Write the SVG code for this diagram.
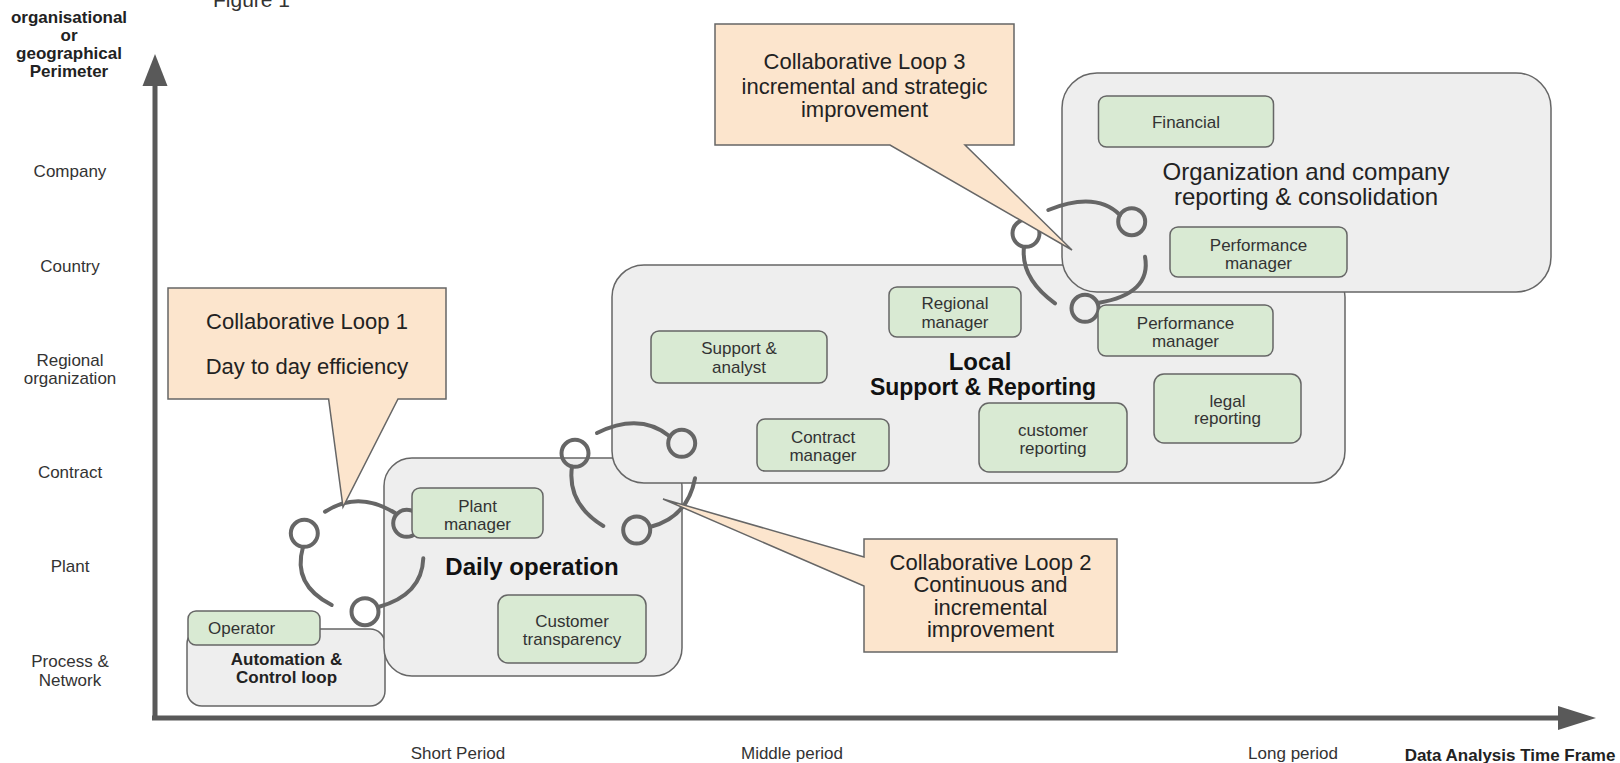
<svg xmlns="http://www.w3.org/2000/svg" width="1620" height="763" viewBox="0 0 1620 763">
<style>
text{font-family:"Liberation Sans",Arial,sans-serif}
.ax{stroke:#595959;stroke-width:5;fill:none}
.axh{fill:#595959}
.big{fill:#eeeeee;stroke:#666;stroke-width:1.5}
.node{fill:#d9ead3;stroke:#666;stroke-width:1.5}
.call{fill:#fce5cd;stroke:#666;stroke-width:1.5}
.loop{fill:none;stroke:#666;stroke-width:4;stroke-linecap:round}
.lbl{font-size:17px;fill:#333;text-anchor:middle}
.lblb{font-size:17px;fill:#222;text-anchor:middle;font-weight:bold}
.nt{font-size:17px;fill:#333;text-anchor:middle}
.ct{font-size:22px;fill:#222;text-anchor:middle}
.tt{font-size:24px;fill:#111;text-anchor:middle;font-weight:bold}
.tr{font-size:24px;fill:#222;text-anchor:middle}
</style>
<rect width="1620" height="763" fill="#ffffff"/>
<text x="213" y="7" font-size="21" fill="#333">Figure 1</text>

<g id="axes">
<line class="ax" x1="155" y1="80" x2="155" y2="720"/>
<polygon class="axh" points="155,54 142.5,86 167.5,86"/>
<line class="ax" x1="152" y1="718" x2="1562" y2="718"/>
<polygon class="axh" points="1558,706 1596,718 1558,730"/>
<text class="lblb" x="69" y="23">organisational</text>
<text class="lblb" x="69" y="41">or</text>
<text class="lblb" x="69" y="59">geographical</text>
<text class="lblb" x="69" y="77">Perimeter</text>
<text class="lbl" x="70" y="176.5">Company</text>
<text class="lbl" x="70" y="271.5">Country</text>
<text class="lbl" x="70" y="365.5">Regional</text>
<text class="lbl" x="70" y="384">organization</text>
<text class="lbl" x="70" y="478">Contract</text>
<text class="lbl" x="70" y="572">Plant</text>
<text class="lbl" x="70" y="667">Process &amp;</text>
<text class="lbl" x="70" y="686">Network</text>
<text class="lbl" x="458" y="759">Short Period</text>
<text class="lbl" x="792" y="759">Middle period</text>
<text class="lbl" x="1293" y="759">Long period</text>
<text class="lblb" x="1510" y="761">Data Analysis Time Frame</text>
</g>

<g id="automation">
<rect class="big" x="187" y="629" width="198" height="77" rx="15"/>
<text class="lblb" x="286.5" y="665">Automation &amp;</text>
<text class="lblb" x="286.5" y="683">Control loop</text>
</g>
<g id="daily-operation">
<rect class="big" x="384" y="458" width="298" height="218" rx="28"/>
<text class="tt" x="532" y="575">Daily operation</text>
</g>
<g id="local-support">
<rect class="big" x="612" y="265" width="733" height="218" rx="32"/>
<text class="tt" x="980" y="370">Local</text>
<text class="tt" x="983" y="395" style="font-size:23px">Support &amp; Reporting</text>
</g>
<g id="organization">
<rect class="big" x="1062" y="73" width="489" height="219" rx="35"/>
<text class="tr" x="1306" y="180">Organization and company</text>
<text class="tr" x="1306" y="205">reporting &amp; consolidation</text>
</g>

<g id="connectors">
<g id="loop1">
<circle class="loop" cx="304.3" cy="533.3" r="13.5"/>
<circle class="loop" cx="406.7" cy="523.3" r="13.5"/>
<circle class="loop" cx="365" cy="611.7" r="13.5"/>
<path class="loop" d="M325,511.7 Q358.5,490 395,513"/>
<path class="loop" d="M423.3,558.3 Q422,595 378.5,607"/>
<path class="loop" d="M331.7,605 Q292,585 303,547"/>
</g>
<g id="loop2">
<circle class="loop" cx="575" cy="453.3" r="13.5"/>
<circle class="loop" cx="681.7" cy="443.3" r="13.5"/>
<circle class="loop" cx="636.7" cy="530" r="13.5"/>
<path class="loop" d="M597,433 Q640,412 670,436.5"/>
<path class="loop" d="M695,478.3 Q687.5,517.5 650,527"/>
<path class="loop" d="M603.3,526 Q566.8,503.8 572,466.5"/>
</g>
<g id="loop3">
<circle class="loop" cx="1026" cy="233.3" r="13.5"/>
<circle class="loop" cx="1131.7" cy="221.7" r="13.5"/>
<circle class="loop" cx="1085" cy="308.3" r="13.5"/>
<path class="loop" d="M1048.3,210 Q1095.9,190.9 1120,215"/>
<path class="loop" d="M1145,256.7 Q1151.9,294 1098,303"/>
<path class="loop" d="M1055,303.3 Q1020.5,278.3 1024,247"/>
</g>
</g>

<g id="operator">
<rect class="node" x="188" y="611" width="132" height="34" rx="8"/>
<text class="nt" x="208" y="634" style="text-anchor:start">Operator</text>
</g>
<g id="plant-manager">
<rect class="node" x="412" y="488" width="131" height="50" rx="8"/>
<text class="nt" x="477.5" y="511.5">Plant</text>
<text class="nt" x="477.5" y="530">manager</text>
</g>
<g id="customer-transparency">
<rect class="node" x="498" y="595" width="148" height="68" rx="10"/>
<text class="nt" x="572" y="627">Customer</text>
<text class="nt" x="572" y="645">transparency</text>
</g>
<g id="support-analyst">
<rect class="node" x="651" y="331" width="176" height="52" rx="8"/>
<text class="nt" x="739" y="354">Support &amp;</text>
<text class="nt" x="739" y="373">analyst</text>
</g>
<g id="regional-manager">
<rect class="node" x="889" y="287" width="132" height="50" rx="8"/>
<text class="nt" x="955" y="309">Regional</text>
<text class="nt" x="955" y="328">manager</text>
</g>
<g id="performance-manager-local">
<rect class="node" x="1098" y="305" width="175" height="51" rx="8"/>
<text class="nt" x="1185.5" y="329">Performance</text>
<text class="nt" x="1185.5" y="347">manager</text>
</g>
<g id="legal-reporting">
<rect class="node" x="1154" y="374" width="147" height="69" rx="10"/>
<text class="nt" x="1227.5" y="407">legal</text>
<text class="nt" x="1227.5" y="424">reporting</text>
</g>
<g id="customer-reporting">
<rect class="node" x="979" y="403" width="148" height="69" rx="10"/>
<text class="nt" x="1053" y="436">customer</text>
<text class="nt" x="1053" y="454">reporting</text>
</g>
<g id="contract-manager">
<rect class="node" x="757" y="419" width="132" height="52" rx="8"/>
<text class="nt" x="823" y="443">Contract</text>
<text class="nt" x="823" y="461">manager</text>
</g>
<g id="financial">
<rect class="node" x="1098.5" y="96" width="175" height="51" rx="8"/>
<text class="nt" x="1186" y="128">Financial</text>
</g>
<g id="performance-manager-org">
<rect class="node" x="1170" y="227" width="177" height="50" rx="8"/>
<text class="nt" x="1258.5" y="251">Performance</text>
<text class="nt" x="1258.5" y="269">manager</text>
</g>

<g id="callout-loop1">
<path class="call" d="M168,288 H446 V399 H398 L343,507 L328.6,399 H168 Z"/>
<text class="ct" x="307" y="329">Collaborative Loop 1</text>
<text class="ct" x="307" y="374">Day to day efficiency</text>
</g>
<g id="callout-loop2">
<path class="call" d="M864,539 H1117 V652 H864 V586 L663,499 L864,557 Z"/>
<text class="ct" x="990.5" y="570">Collaborative Loop 2</text>
<text class="ct" x="990.5" y="592">Continuous and</text>
<text class="ct" x="990.5" y="615">incremental</text>
<text class="ct" x="990.5" y="637">improvement</text>
</g>
<g id="callout-loop3">
<path class="call" d="M715,24 H1014 V145 H965 L1072,250 L890,145 H715 Z"/>
<text class="ct" x="864.5" y="69">Collaborative Loop 3</text>
<text class="ct" x="864.5" y="94">incremental and strategic</text>
<text class="ct" x="864.5" y="117">improvement</text>
</g>
</svg>
